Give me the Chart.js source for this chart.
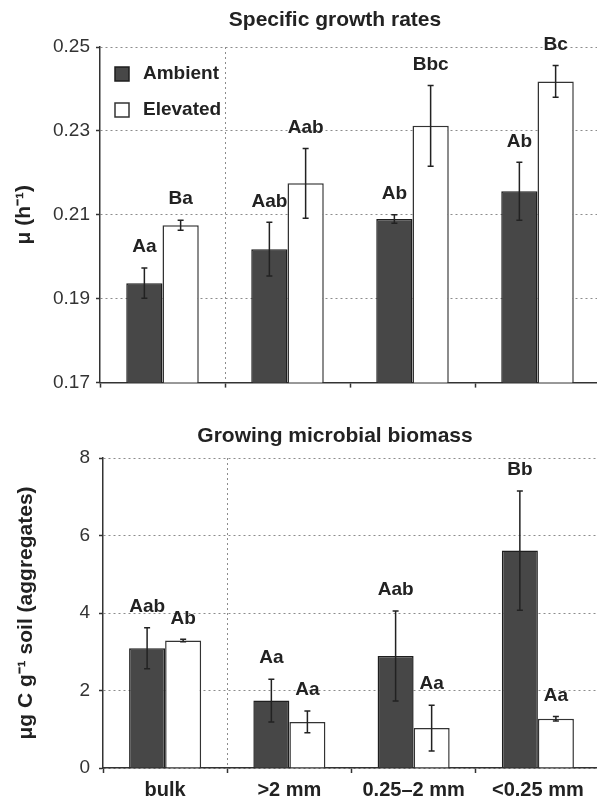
<!DOCTYPE html>
<html>
<head>
  <title>Specific growth rates and growing microbial biomass</title>
  <meta name="viewport" content="width=device-width, initial-scale=1.0">
  <style>
    html, body {
      margin: 0;
      padding: 0;
      background: #fff;
      overflow: hidden;
    }
    .panel {
      position: relative;
      width: 604px;
      height: 400px;
    }
  </style>
</head>
<body>
  <div class="panel"><canvas id="muChart"></canvas></div>
  <div class="panel"><canvas id="biomassChart"></canvas></div>

  <script src="https://cdn.jsdelivr.net/npm/chart.js"></script>
  <script>
    // categories and series
    const fractions = ['bulk', '>2 mm', '0.25–2 mm', '<0.25 mm'];
    const seriesNames = ['Ambient', 'Elevated'];

    // specific growth rates, mu (h-1)
    const muAmbient = [0.1937, 0.2018, 0.2090, 0.2156];
    const muElevated = [0.2075, 0.2175, 0.2312, 0.2418];
    const muAmbientErr = [0.0036, 0.0064, 0.0010, 0.0069];
    const muElevatedErr = [0.0012, 0.0083, 0.0096, 0.0038];
    const muAmbientLetters = ['Aa', 'Aab', 'Ab', 'Ab'];
    const muElevatedLetters = ['Ba', 'Aab', 'Bbc', 'Bc'];
    const muTicks = [0.17, 0.19, 0.21, 0.23, 0.25];

    // growing microbial biomass, ug C g-1 soil
    const biomassAmbient = [3.09, 1.74, 2.89, 5.61];
    const biomassElevated = [3.29, 1.19, 1.03, 1.27];
    const biomassAmbientErr = [0.53, 0.55, 1.16, 1.54];
    const biomassElevatedErr = [0.03, 0.28, 0.59, 0.06];
    const biomassAmbientLetters = ['Aab', 'Aa', 'Aab', 'Bb'];
    const biomassElevatedLetters = ['Ab', 'Aa', 'Aa', 'Aa'];
    const biomassTicks = [0, 2, 4, 6, 8];

    const FONT = '"Liberation Sans", Arial, sans-serif';
    const INK = '#222';
    const DARK_BAR = '#474747';
    const GRID = '#8c8c8c';

    // error bars + significance letters
    const errorBars = {
      id: 'errorBars',
      afterDatasetsDraw(chart) {
        const ctx = chart.ctx;
        const y = chart.scales.y;
        chart.data.datasets.forEach((ds, di) => {
          const meta = chart.getDatasetMeta(di);
          meta.data.forEach((bar, i) => {
            const v = ds.data[i];
            const e = ds.errors[i];
            const yTop = y.getPixelForValue(v + e);
            const yBot = y.getPixelForValue(v - e);
            ctx.save();
            ctx.strokeStyle = INK;
            ctx.lineWidth = 1.5;
            ctx.beginPath();
            ctx.moveTo(bar.x, yTop);
            ctx.lineTo(bar.x, yBot);
            ctx.moveTo(bar.x - 3, yTop);
            ctx.lineTo(bar.x + 3, yTop);
            ctx.moveTo(bar.x - 3, yBot);
            ctx.lineTo(bar.x + 3, yBot);
            ctx.stroke();
            ctx.fillStyle = INK;
            ctx.font = 'bold 19px ' + FONT;
            ctx.textAlign = 'center';
            ctx.textBaseline = 'middle';
            ctx.fillText(ds.letters[i], bar.x, yTop - 21);
            ctx.restore();
          });
        });
      }
    };

    // panel title, centred a bit right of the canvas middle like the figure
    const panelTitle = {
      id: 'panelTitle',
      afterDraw(chart, args, opts) {
        const ctx = chart.ctx;
        ctx.save();
        ctx.fillStyle = INK;
        ctx.font = 'bold 21px ' + FONT;
        ctx.textAlign = 'center';
        ctx.textBaseline = 'middle';
        ctx.fillText(opts.text, opts.x, opts.y);
        ctx.restore();
      }
    };

    // legend inside the plot, top left
    const insideLegend = {
      id: 'insideLegend',
      afterDraw(chart, args, opts) {
        if (!opts.show) return;
        const ctx = chart.ctx;
        const area = chart.chartArea;
        ctx.save();
        chart.data.datasets.forEach((ds, i) => {
          const x = area.left + 15;
          const y = area.top + 20 + i * 36;
          ctx.fillStyle = ds.backgroundColor;
          ctx.fillRect(x, y, 14, 14);
          ctx.strokeStyle = ds.borderColor;
          ctx.lineWidth = 1.5;
          ctx.strokeRect(x, y, 14, 14);
          ctx.fillStyle = INK;
          ctx.font = 'bold 19px ' + FONT;
          ctx.textAlign = 'left';
          ctx.textBaseline = 'middle';
          ctx.fillText(ds.label, x + 28, y + 7);
        });
        ctx.restore();
      }
    };

    function makeDatasets(amb, ele, ambErr, eleErr, ambLet, eleLet) {
      return [
        {
          label: seriesNames[0],
          data: amb,
          errors: ambErr,
          letters: ambLet,
          backgroundColor: DARK_BAR,
          borderColor: '#1e1e1e',
          borderWidth: 1.5,
          barPercentage: 1,
          categoryPercentage: 0.58
        },
        {
          label: seriesNames[1],
          data: ele,
          errors: eleErr,
          letters: eleLet,
          backgroundColor: '#ffffff',
          borderColor: '#333',
          borderWidth: 1.5,
          barPercentage: 1,
          categoryPercentage: 0.58
        }
      ];
    }

    function makeOptions(cfg) {
      return {
        responsive: true,
        maintainAspectRatio: false,
        animation: false,
        layout: { padding: { top: cfg.padTop, right: 4, left: 0, bottom: 0 } },
        plugins: {
          legend: { display: false },
          tooltip: { enabled: false },
          panelTitle: { text: cfg.title, x: 335, y: cfg.titleY },
          insideLegend: { show: cfg.legend }
        },
        scales: {
          x: {
            offset: true,
            grid: {
              offset: true,
              color: c => c.index === 1 ? GRID : 'rgba(0,0,0,0)',
              lineWidth: 1,
              borderDash: [2, 3],
              drawTicks: true,
              tickLength: 5,
              tickColor: '#333',
              tickWidth: 1.5,
              tickBorderDash: []
            },
            border: { display: true, color: '#333', width: 1.5, dash: [2, 3] },
            ticks: {
              display: cfg.xLabels,
              color: INK,
              font: { family: FONT, size: 20, weight: 'bold' },
              padding: 5,
              maxRotation: 0,
              autoSkip: false
            },
            afterFit: s => { s.height = cfg.xHeight; }
          },
          y: {
            min: cfg.ticks[0],
            max: cfg.ticks[cfg.ticks.length - 1],
            afterBuildTicks: s => { s.ticks = cfg.ticks.map(v => ({ value: v })); },
            grid: {
              color: GRID,
              lineWidth: 1,
              borderDash: [2, 3],
              tickLength: 4,
              tickColor: '#333',
              tickWidth: 1.5,
              tickBorderDash: []
            },
            border: { display: true, color: '#333', width: 1.5, dash: [2, 3] },
            ticks: {
              color: '#333',
              font: { family: FONT, size: 19 },
              padding: cfg.tickPad,
              callback: v => v.toFixed(cfg.decimals)
            },
            title: {
              display: true,
              text: cfg.yTitle,
              color: INK,
              font: { family: FONT, size: 21, weight: 'bold' },
              padding: { top: cfg.titlePad, bottom: 0 }
            },
            afterFit: s => { s.width = cfg.yWidth; }
          }
        }
      };
    }

    new Chart(document.getElementById('muChart'), {
      type: 'bar',
      data: {
        labels: fractions,
        datasets: makeDatasets(muAmbient, muElevated, muAmbientErr, muElevatedErr, muAmbientLetters, muElevatedLetters)
      },
      options: makeOptions({
        title: 'Specific growth rates', titleY: 20, padTop: 47, legend: true,
        xLabels: false, xHeight: 7, ticks: muTicks, decimals: 2, tickPad: 6,
        yTitle: 'μ (h⁻¹)', titlePad: 12, yWidth: 100
      }),
      plugins: [errorBars, panelTitle, insideLegend]
    });

    new Chart(document.getElementById('biomassChart'), {
      type: 'bar',
      data: {
        labels: fractions,
        datasets: makeDatasets(biomassAmbient, biomassElevated, biomassAmbientErr, biomassElevatedErr, biomassAmbientLetters, biomassElevatedLetters)
      },
      options: makeOptions({
        title: 'Growing microbial biomass', titleY: 36, padTop: 58, legend: false,
        xLabels: true, xHeight: 32, ticks: biomassTicks, decimals: 0, tickPad: 9,
        yTitle: 'μg C g⁻¹ soil (aggregates)', titlePad: 14, yWidth: 103
      }),
      plugins: [errorBars, panelTitle, insideLegend]
    });
  </script>
</body>
</html>
